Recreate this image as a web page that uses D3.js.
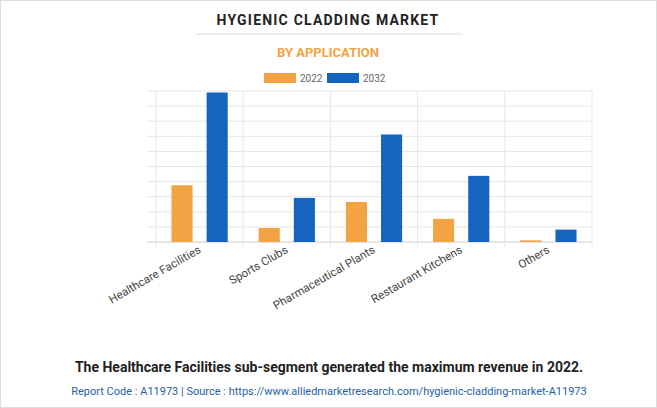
<!DOCTYPE html><html><head><meta charset="utf-8"><script src="https://cdn.jsdelivr.net/npm/d3@7"></script>
<style>body{margin:0;background:#fff}svg{font-family:Roboto,Arial,sans-serif}</style></head><body><svg id="c" width="657" height="408"></svg>
<script>
const categories=["Healthcare Facilities","Sports Clubs","Pharmaceutical Plants","Restaurant Kitchens","Others"];
const series=["2022","2032"];
const values2022=[3.76,0.93,2.65,1.53,0.11];
const values2032=[9.9,2.92,7.12,4.38,0.82];
const colors=["#f2a444","#1565c0"];
const svg=d3.select("#c");
svg.append("rect").attr("x",0.5).attr("y",0.5).attr("width",656).attr("height",407).attr("fill","#fff").attr("stroke","#ddd");
svg.append("text").attr("x",328).attr("y",25).attr("text-anchor","middle").attr("font-size",14).attr("font-weight","bold").attr("letter-spacing",1.2).attr("fill","#222").text("HYGIENIC CLADDING MARKET");
svg.append("line").attr("x1",195).attr("x2",462).attr("y1",34).attr("y2",34).attr("stroke","#ddd");
svg.append("text").attr("x",328).attr("y",57).attr("text-anchor","middle").attr("font-size",13).attr("font-weight","bold").attr("fill","#f2a444").text("BY APPLICATION");
const lg=[[264,"2022"],[327,"2032"]];
lg.forEach((d,i)=>{svg.append("rect").attr("x",d[0]).attr("y",73).attr("width",32).attr("height",10).attr("fill",colors[i]);
svg.append("text").attr("x",d[0]+36).attr("y",82).attr("font-size",10).attr("fill","#666").text(d[1]);});
const x=d3.scaleBand().domain(categories).range([156,592]);
const y=d3.scaleLinear().domain([0,10]).range([242,91]);
const g=svg.append("g");
y.ticks(10).forEach(t=>g.append("line").attr("x1",147).attr("x2",592).attr("y1",y(t)).attr("y2",y(t)).attr("stroke",t==0?"#ccc":"#e6e6e6"));
[...categories.map(c=>x(c)),592].forEach(v=>g.append("line").attr("x1",v).attr("x2",v).attr("y1",91).attr("y2",247).attr("stroke","#e6e6e6"));
const inner=d3.scaleBand().domain(series).range([0,x.bandwidth()]).paddingInner(0.4).paddingOuter(0.44);
[values2022,values2032].forEach((vals,si)=>{
 g.selectAll(null).data(categories).enter().append("rect")
 .attr("x",c=>x(c)+inner(series[si])).attr("width",inner.bandwidth())
 .attr("y",(c,i)=>y(vals[i])).attr("height",(c,i)=>y(0)-y(vals[i])).attr("fill",colors[si]);
});
categories.forEach(c=>{const cx=x(c)+x.bandwidth()/2;
 svg.append("text").attr("transform",`translate(${cx+2},${252}) rotate(-30)`).attr("text-anchor","end").attr("font-size",11.5).attr("fill","#444").text(c);});
svg.append("text").attr("x",329).attr("y",372).attr("text-anchor","middle").attr("font-size",14).attr("font-weight","bold").attr("fill","#222").text("The Healthcare Facilities sub-segment generated the maximum revenue in 2022.");
svg.append("text").attr("x",329).attr("y",395).attr("text-anchor","middle").attr("font-size",11).attr("fill","#1f5fa8").text("Report Code : A11973  |  Source : https://www.alliedmarketresearch.com/hygienic-cladding-market-A11973");
</script></body></html>
